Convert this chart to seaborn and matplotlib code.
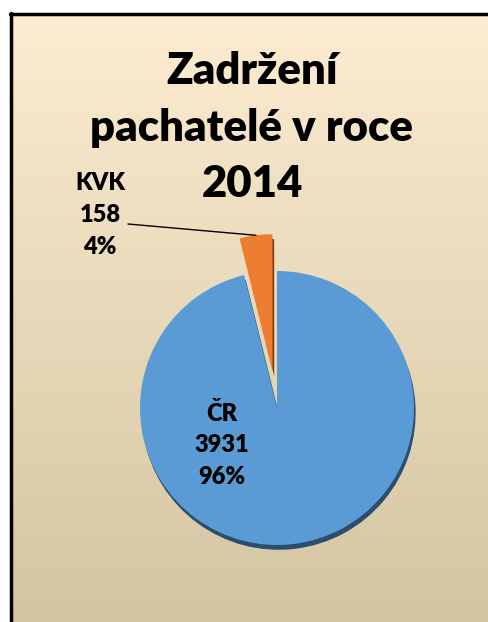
import numpy as np
import matplotlib.pyplot as plt
from matplotlib.lines import Line2D
import seaborn as sns

# data
regions = ["KVK", "ČR"]
counts = [158, 3931]
title_lines = ["Zadržení", "pachatelé v roce", "2014"]

colors = ["#ED7D31", "#5B9BD5"]
shadow_colors = ["#7a3a10", "#2b4d6e"]

sns.set_style("white")
plt.rcParams["font.family"] = ["Lato", "DejaVu Sans"]

W, H = 489, 622
fig = plt.figure(figsize=(W / 100, H / 100), dpi=100)
fig.patch.set_facecolor("white")

# background gradient inside the frame
bg = fig.add_axes([11 / W, 0, 1 - 11 / W, 1 - 15 / H])
grad = np.linspace(0, 1, 256).reshape(-1, 1)
top = np.array([253, 236, 209]) / 255
bot = np.array([211, 197, 162]) / 255
img = top + (bot - top) * grad[:, :, None]
bg.imshow(img, aspect="auto", extent=[0, 1, 0, 1])
bg.set_axis_off()

# frame lines (left and top)
fig.add_artist(Line2D([10.5 / W, 10.5 / W], [0, 1 - 13 / H], color="black", lw=2.5))
fig.add_artist(Line2D([9.5 / W, 1], [1 - 14 / H, 1 - 14 / H], color="black", lw=2.5))

# pie axes: centre (277, 408) px, radius 137 px
cx, cy, R, S = 277, 408, 137, 200
ax = fig.add_axes([(cx - S) / W, 1 - (cy + S) / H, 2 * S / W, 2 * S / H])
ax.set_axis_off()

explode = [0.27, 0]
# shadow
ax.pie(counts, explode=explode, colors=shadow_colors, startangle=90,
       counterclock=True, center=(0.012, -0.035), radius=1.0,
       wedgeprops=dict(linewidth=0))
wedges, _ = ax.pie(counts, explode=explode, colors=colors, startangle=90,
                   counterclock=True, radius=1.0,
                   wedgeprops=dict(linewidth=0))
ax.set_xlim(-S / R, S / R)
ax.set_ylim(-S / R, S / R)

total = sum(counts)
label_font = dict(fontsize=17, fontweight="heavy", ha="center", va="center",
                  linespacing=1.55, color="black")

# KVK label with leader line
w = wedges[0]
mid = np.deg2rad((w.theta1 + w.theta2) / 2)
tip = (w.center[0] + w.r * np.cos(mid), w.center[1] + w.r * np.sin(mid))
kvk_txt = f"{regions[0]}\n{counts[0]}\n{round(100 * counts[0] / total)}%"
ax.text((100 - cx) / R, (cy - 215) / R, kvk_txt, **label_font)
ax.plot([(128 - cx) / R, tip[0]], [(cy - 224) / R, tip[1]], color="black", lw=1)

# ČR label inside
cr_txt = f"{regions[1]}\n{counts[1]}\n{round(100 * counts[1] / total)}%"
ax.text((222 - cx) / R, (cy - 445) / R, cr_txt, **label_font)

# title, one text per line
for line, y_px in zip(title_lines, [71, 128, 184]):
    fig.text(252 / W, 1 - y_px / H, line, fontsize=31.5, fontweight="heavy",
             ha="center", va="center", color="black")

fig.savefig("out.png", dpi=100)
